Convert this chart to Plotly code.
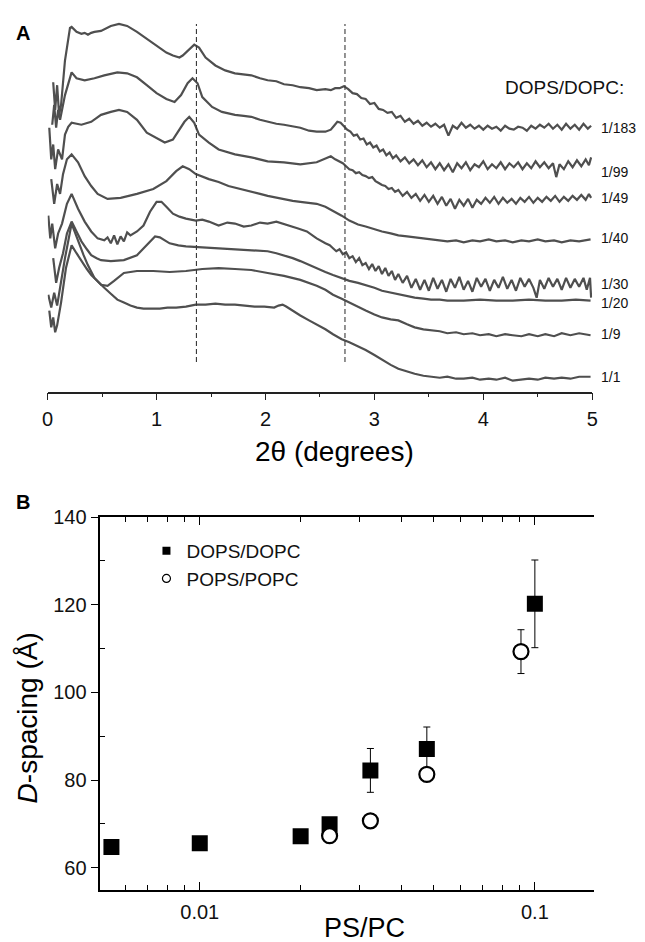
import math
import plotly.graph_objects as go

W, H = 645, 942
BODY = 8                     # default page margin of the html body
FW, FH = W - BODY, H - BODY  # figure size so the whole figure fits the window
FONT = "Liberation Sans, Arial, Helvetica, sans-serif"

# ---------------- Panel A: SAXS curves (2theta in degrees, intensity in offset a.u.) ----------------
curve_1_183 = [
    (0.051, 313), (0.069, 285), (0.087, 310), (0.105, 280), (0.123, 290), (0.159, 335), (0.205, 368),
    (0.22, 369), (0.265, 364), (0.31, 362), (0.34, 363), (0.37, 361), (0.40, 363), (0.43, 364),
    (0.49, 365), (0.55, 368), (0.58, 370), (0.655, 372), (0.73, 370), (0.82, 364), (0.91, 357),
    (1.0, 350), (1.09, 343), (1.15, 340), (1.21, 338), (1.24, 340), (1.27, 343), (1.346, 351),
    (1.39, 348), (1.45, 338), (1.54, 330), (1.63, 325), (1.72, 322), (1.80, 321), (1.87, 320),
    (1.95, 317), (2.02, 315), (2.10, 314), (2.17, 311), (2.25, 310), (2.32, 308), (2.40, 307),
    (2.47, 305), (2.55, 306),
    (2.60, 305), (2.64, 307), (2.68, 307), (2.72, 309), (2.76, 306), (2.80, 302), (2.84, 301),
    (2.88, 297), (2.92, 296), (2.96, 291), (3.00, 292), (3.04, 286), (3.08, 285), (3.12, 282),
    (3.16, 283), (3.20, 277), (3.24, 279), (3.28, 273), (3.32, 276), (3.36, 271), (3.40, 274),
    (3.44, 269), (3.48, 272), (3.52, 268), (3.56, 271), (3.60, 267), (3.64, 270), (3.68, 259),
    (3.72, 269), (3.76, 266), (3.80, 272), (3.84, 267), (3.88, 270), (3.92, 266), (3.96, 269),
    (4.00, 265), (4.04, 269), (4.08, 266), (4.12, 268), (4.16, 264), (4.20, 269), (4.24, 266),
    (4.28, 265), (4.32, 268), (4.36, 267), (4.40, 264), (4.44, 269), (4.48, 266), (4.52, 270),
    (4.56, 267), (4.60, 271), (4.64, 266), (4.68, 270), (4.72, 265), (4.76, 271), (4.80, 266),
    (4.84, 270), (4.88, 265), (4.92, 271), (4.96, 266), (4.99, 269),
]

curve_1_99 = [
    (0.042, 270), (0.06, 290), (0.078, 267), (0.096, 285), (0.114, 275), (0.159, 300), (0.22, 323),
    (0.265, 317), (0.34, 315), (0.43, 317), (0.52, 320), (0.64, 323), (0.73, 322), (0.82, 318),
    (0.91, 310), (1.0, 302), (1.09, 296), (1.165, 293), (1.225, 300), (1.285, 312), (1.33, 317),
    (1.376, 312), (1.42, 298), (1.51, 288), (1.60, 283), (1.72, 280), (1.80, 279), (1.87, 278),
    (1.95, 275), (2.02, 273), (2.10, 271), (2.17, 270), (2.25, 268), (2.32, 267), (2.40, 264),
    (2.47, 263), (2.55, 263),
    (2.60, 265), (2.63, 269), (2.66, 273), (2.69, 272), (2.72, 268), (2.75, 265), (2.78, 263),
    (2.81, 259), (2.84, 260), (2.87, 255), (2.90, 256), (2.93, 250), (2.96, 252), (2.99, 247),
    (3.02, 249), (3.05, 243), (3.08, 245), (3.11, 239), (3.14, 242), (3.17, 236), (3.20, 239),
    (3.24, 233), (3.28, 237), (3.32, 231), (3.36, 235), (3.40, 229), (3.44, 234), (3.48, 227),
    (3.52, 232), (3.56, 225), (3.60, 231), (3.64, 224), (3.68, 230), (3.72, 222), (3.76, 231),
    (3.80, 226), (3.84, 232), (3.88, 224), (3.92, 230), (3.96, 227), (4.00, 233), (4.04, 225),
    (4.08, 230), (4.12, 226), (4.16, 232), (4.20, 225), (4.24, 231), (4.28, 227), (4.32, 232),
    (4.36, 225), (4.40, 231), (4.44, 226), (4.48, 233), (4.52, 227), (4.56, 232), (4.60, 226),
    (4.64, 231), (4.67, 217), (4.70, 230), (4.74, 225), (4.78, 233), (4.82, 227), (4.86, 234),
    (4.90, 228), (4.94, 235), (4.97, 229), (4.99, 237),
]

curve_1_49 = [
    (0.015, 267), (0.033, 235), (0.051, 250), (0.069, 225), (0.096, 245), (0.132, 235), (0.159, 260),
    (0.189, 268), (0.22, 272), (0.31, 270), (0.40, 273), (0.49, 280), (0.58, 283), (0.655, 285),
    (0.73, 283), (0.82, 275), (0.91, 262), (1.0, 257), (1.075, 252), (1.15, 255), (1.21, 265),
    (1.256, 273), (1.30, 278), (1.346, 272), (1.39, 260), (1.48, 252), (1.57, 245), (1.72, 240),
    (1.87, 237), (2.02, 233), (2.17, 232), (2.32, 230), (2.47, 232),
    (2.60, 238), (2.64, 235), (2.68, 233), (2.71, 231), (2.74, 228), (2.77, 225), (2.80, 224),
    (2.83, 221), (2.86, 222), (2.89, 219), (2.92, 218), (2.95, 216), (2.98, 217), (3.01, 213),
    (3.04, 211), (3.07, 209), (3.10, 208), (3.13, 205), (3.16, 206), (3.19, 202), (3.22, 204),
    (3.26, 198), (3.30, 202), (3.34, 196), (3.38, 200), (3.42, 193), (3.46, 199), (3.50, 192),
    (3.54, 198), (3.58, 190), (3.62, 197), (3.66, 188), (3.70, 195), (3.74, 185), (3.78, 194),
    (3.82, 188), (3.86, 195), (3.90, 186), (3.94, 194), (3.98, 190), (4.02, 196), (4.06, 191),
    (4.10, 197), (4.14, 190), (4.18, 196), (4.22, 191), (4.26, 195), (4.30, 190), (4.34, 196),
    (4.38, 192), (4.42, 197), (4.46, 191), (4.50, 196), (4.54, 192), (4.58, 197), (4.62, 193),
    (4.66, 198), (4.70, 192), (4.74, 197), (4.78, 193), (4.82, 198), (4.86, 194), (4.90, 199),
    (4.94, 194), (4.97, 200), (4.99, 196),
]

curve_1_40 = [
    (0.033, 215), (0.06, 190), (0.087, 210), (0.114, 200), (0.141, 220), (0.177, 235), (0.22, 240),
    (0.279, 232), (0.34, 218), (0.40, 208), (0.459, 200), (0.55, 195), (0.67, 196), (0.82, 200),
    (0.97, 205), (1.09, 213), (1.18, 223), (1.24, 228), (1.30, 225), (1.36, 220), (1.48, 215),
    (1.57, 212), (1.66, 208), (1.76, 205), (1.87, 202), (1.95, 200), (2.02, 198), (2.10, 196),
    (2.17, 195), (2.25, 193), (2.32, 192), (2.40, 191), (2.47, 190), (2.55, 187), (2.62, 183),
    (2.70, 178), (2.77, 173), (2.85, 169), (2.92, 167), (3.00, 164), (3.07, 162), (3.15, 160),
    (3.22, 158), (3.30, 157), (3.37, 156), (3.45, 155), (3.52, 154), (3.60, 153), (3.67, 152),
    (3.75, 153), (3.82, 151), (3.90, 153), (3.97, 152), (4.05, 154), (4.12, 152), (4.20, 153),
    (4.27, 151), (4.35, 153), (4.42, 152), (4.50, 154), (4.57, 152), (4.65, 153), (4.72, 151),
    (4.80, 153), (4.88, 152), (4.985, 154),
]

curve_1_30 = [
    (0.006, 178), (0.024, 155), (0.042, 170), (0.069, 145), (0.096, 160), (0.132, 170), (0.177, 190),
    (0.22, 200), (0.279, 185), (0.34, 172), (0.40, 162), (0.459, 155), (0.52, 153), (0.55, 156),
    (0.58, 150), (0.61, 158), (0.64, 149), (0.67, 157), (0.70, 152), (0.73, 161), (0.76, 158),
    (0.82, 162), (0.88, 168), (0.94, 182), (1.0, 192), (1.045, 192), (1.09, 187), (1.15, 180),
    (1.21, 177), (1.27, 175), (1.36, 173), (1.42, 174), (1.48, 172), (1.57, 168), (1.65, 171),
    (1.72, 170), (1.80, 167), (1.87, 168), (1.95, 171), (2.02, 170), (2.10, 172), (2.16, 170),
    (2.23, 168), (2.30, 165), (2.38, 162), (2.47, 155), (2.55, 150), (2.59, 148),
    (2.62, 145), (2.65, 142), (2.68, 144), (2.71, 139), (2.74, 141), (2.77, 135), (2.80, 137),
    (2.83, 131), (2.86, 135), (2.89, 128), (2.92, 130), (2.95, 124), (2.98, 129), (3.01, 122),
    (3.04, 127), (3.07, 119), (3.10, 125), (3.13, 117), (3.16, 122), (3.19, 113), (3.22, 119),
    (3.26, 110), (3.30, 117), (3.34, 105), (3.38, 114), (3.42, 103), (3.46, 113), (3.50, 102),
    (3.54, 115), (3.58, 104), (3.62, 113), (3.66, 101), (3.70, 114), (3.74, 105), (3.78, 116),
    (3.82, 103), (3.86, 112), (3.90, 101), (3.94, 115), (3.98, 106), (4.02, 114), (4.06, 102),
    (4.10, 113), (4.14, 105), (4.18, 116), (4.22, 104), (4.26, 113), (4.30, 102), (4.34, 115),
    (4.38, 106), (4.42, 114), (4.46, 105), (4.49, 95), (4.52, 113), (4.56, 104), (4.60, 115),
    (4.64, 106), (4.68, 114), (4.72, 103), (4.76, 115), (4.80, 105), (4.84, 114), (4.88, 106),
    (4.92, 115), (4.95, 103), (4.98, 115), (4.99, 95),
]

curve_1_20 = [
    (0.051, 135), (0.078, 110), (0.105, 125), (0.141, 140), (0.177, 160), (0.22, 172), (0.265, 162),
    (0.31, 152), (0.36, 144), (0.40, 138), (0.45, 135), (0.49, 133), (0.58, 132), (0.70, 133),
    (0.82, 138), (0.91, 148), (0.986, 157), (1.03, 156), (1.075, 153), (1.12, 150), (1.20, 148),
    (1.27, 147), (1.42, 146), (1.57, 145), (1.72, 144), (1.87, 143), (2.02, 142), (2.10, 140),
    (2.17, 138), (2.25, 135), (2.32, 132), (2.40, 128), (2.47, 125), (2.55, 121), (2.62, 118),
    (2.70, 115), (2.77, 112), (2.85, 110), (2.92, 108), (3.00, 105), (3.07, 102), (3.15, 100),
    (3.22, 98), (3.30, 96), (3.37, 95), (3.45, 94), (3.52, 93), (3.60, 93), (3.67, 92),
    (3.82, 92), (3.97, 93), (4.12, 92), (4.27, 92), (4.42, 93), (4.57, 92), (4.72, 92),
    (4.85, 93), (4.985, 92),
]

curve_1_9 = [
    (0.006, 98), (0.033, 85), (0.06, 100), (0.087, 87), (0.114, 105), (0.159, 135), (0.22, 170),
    (0.28, 152), (0.33, 138), (0.369, 128), (0.43, 115), (0.49, 108), (0.55, 107), (0.61, 112),
    (0.70, 120), (0.82, 122), (0.97, 122), (1.12, 121), (1.27, 122), (1.42, 124), (1.57, 125),
    (1.72, 124), (1.87, 123), (2.02, 120), (2.17, 117), (2.32, 113), (2.40, 110), (2.47, 107),
    (2.55, 103), (2.62, 98), (2.70, 94), (2.77, 90), (2.85, 86), (2.92, 82), (3.00, 78),
    (3.07, 75), (3.15, 73), (3.22, 72), (3.30, 68), (3.37, 65), (3.45, 63), (3.52, 62),
    (3.60, 61), (3.67, 59), (3.75, 60), (3.82, 58), (3.90, 59), (3.97, 57), (4.05, 58),
    (4.12, 56), (4.20, 58), (4.27, 57), (4.35, 56), (4.42, 58), (4.50, 56), (4.57, 58),
    (4.65, 56), (4.72, 59), (4.80, 57), (4.88, 59), (4.985, 57),
]

curve_1_1 = [
    (0.015, 82), (0.033, 65), (0.051, 75), (0.069, 60), (0.087, 67), (0.123, 90), (0.168, 125),
    (0.22, 148), (0.265, 140), (0.31, 132), (0.36, 124), (0.40, 118), (0.46, 111), (0.52, 105),
    (0.58, 99), (0.64, 93), (0.70, 90), (0.76, 87), (0.82, 85), (0.88, 84), (0.95, 84),
    (1.03, 84), (1.10, 85), (1.18, 85), (1.27, 86), (1.36, 88), (1.45, 88), (1.54, 89),
    (1.63, 88), (1.72, 88), (1.81, 87), (1.90, 86), (1.99, 86), (2.08, 85), (2.12, 87),
    (2.157, 88), (2.19, 86), (2.23, 83), (2.28, 80), (2.32, 77), (2.40, 72), (2.47, 68),
    (2.55, 63), (2.62, 58), (2.70, 53), (2.77, 50), (2.85, 46), (2.92, 42), (3.00, 37),
    (3.07, 32), (3.15, 27), (3.22, 23), (3.30, 20), (3.37, 18), (3.45, 16), (3.52, 15),
    (3.60, 14), (3.67, 15), (3.75, 13), (3.82, 13), (3.90, 14), (3.97, 12), (4.05, 13),
    (4.12, 12), (4.20, 14), (4.27, 11), (4.35, 12), (4.42, 13), (4.50, 12), (4.57, 14),
    (4.65, 13), (4.72, 14), (4.80, 13), (4.88, 15), (4.985, 15),
]

sample_names = ["1/183", "1/99", "1/49", "1/40", "1/30", "1/20", "1/9", "1/1"]
sample_curves = [curve_1_183, curve_1_99, curve_1_49, curve_1_40, curve_1_30, curve_1_20, curve_1_9, curve_1_1]
label_levels = [267, 222, 196, 155, 109, 90, 58, 15]   # intensity level of each label
header_level = 308
bragg_lines = [1.366, 2.73]                            # 2theta of the dashed guides
bragg_span = [30, 372]                                 # intensity extent of the guides

# ---------------- Panel B: D-spacing vs PS/PC ----------------
ps_pc_dops = [0.00545, 0.0100, 0.0200, 0.0244, 0.0323, 0.0476, 0.100]
d_dops = [64.7, 65.6, 67.2, 69.9, 82.2, 87.1, 120.2]
err_dops = [0.8, 0.8, 0.8, 1.0, 5.0, 5.0, 10.0]

ps_pc_pops = [0.0244, 0.0323, 0.0476, 0.0909]
d_pops = [67.3, 70.7, 81.3, 109.3]
err_pops = [1.2, 1.4, 1.5, 5.0]

x_ticks_A = [0, 1, 2, 3, 4, 5]
x_minor_A = [0.5, 1.5, 2.5, 3.5, 4.5]
y_ticks_B = [60, 80, 100, 120, 140]
y_minor_B = [70, 90, 110, 130]
x_ticks_B = [0.01, 0.1]
x_ticklabels_B = ["0.01", "0.1"]
x_minor_B = [0.006, 0.007, 0.008, 0.009, 0.02, 0.03, 0.04, 0.05, 0.06, 0.07, 0.08, 0.09]


def px(x):
    """window pixel column -> paper fraction"""
    return (x - BODY) / FW


def py(y):
    """window pixel row -> paper fraction"""
    return 1 - (y - BODY) / FH


LINE_A = "#4f4f4f"

fig = go.Figure()

for name, pts in zip(sample_names, sample_curves):
    xs, ys = zip(*pts)
    fig.add_trace(go.Scatter(x=list(xs), y=list(ys), mode="lines", name=name,
                             line=dict(color=LINE_A, width=2.2), xaxis="x", yaxis="y",
                             showlegend=False, hoverinfo="skip"))

for xb in bragg_lines:
    fig.add_shape(type="line", xref="x", yref="y", x0=xb, x1=xb, y0=bragg_span[0], y1=bragg_span[1],
                  line=dict(color="#3a3a3a", width=1.1, dash="5px,3px"))

# panel B
fig.add_trace(go.Scatter(x=ps_pc_dops, y=d_dops, mode="markers", xaxis="x2", yaxis="y2",
                         marker=dict(symbol="square", size=16, color="black"),
                         error_y=dict(type="data", array=err_dops, color="black", thickness=1, width=3.5),
                         showlegend=False, hoverinfo="skip"))
fig.add_trace(go.Scatter(x=ps_pc_pops, y=d_pops, mode="markers", xaxis="x2", yaxis="y2",
                         marker=dict(symbol="circle", size=15, color="white", line=dict(color="black", width=2.2)),
                         error_y=dict(type="data", array=err_pops, color="black", thickness=1, width=3.5),
                         showlegend=False, hoverinfo="skip"))
# legend entries
fig.add_trace(go.Scatter(x=[None], y=[None], mode="markers", xaxis="x2", yaxis="y2", name="DOPS/DOPC",
                         marker=dict(symbol="square", size=8, color="black")))
fig.add_trace(go.Scatter(x=[None], y=[None], mode="markers", xaxis="x2", yaxis="y2", name="POPS/POPC",
                         marker=dict(symbol="circle", size=8, color="white", line=dict(color="black", width=1.2))))

AX_COLOR = "#222222"
tickfont = dict(family=FONT, size=20, color="#111111")

fig.update_layout(
    width=FW, height=FH,
    margin=dict(l=0, r=0, t=0, b=0, pad=0),
    paper_bgcolor="white", plot_bgcolor="white",
    font=dict(family=FONT, color="#111111"),
    xaxis=dict(domain=[px(42.3), px(597.3)], anchor="y", range=[0, 5],
               tickmode="array", tickvals=x_ticks_A, ticks="outside", ticklen=7, tickwidth=1.3,
               tickcolor=AX_COLOR, minor=dict(tickmode="array", tickvals=x_minor_A, ticks="outside",
                                              ticklen=4, tickwidth=1.3, tickcolor=AX_COLOR),
               showline=True, linecolor=AX_COLOR, linewidth=1.5, showgrid=False, zeroline=False,
               tickfont=tickfont, ticklabelstandoff=2),
    yaxis=dict(domain=[py(385), 1.0], anchor="x", range=[0, 385 - BODY], visible=False),
    xaxis2=dict(domain=[px(96), px(599)], anchor="y2", type="log",
                range=[math.log10(0.00505), math.log10(0.15)],
                tickmode="array", tickvals=x_ticks_B, ticktext=x_ticklabels_B,
                ticks="inside", ticklen=8, tickwidth=1.3, tickcolor="black",
                minor=dict(tickmode="array", tickvals=x_minor_B, ticks="inside", ticklen=5,
                           tickwidth=1.3, tickcolor="black"),
                mirror="allticks", showline=True, linecolor="black", linewidth=1.6,
                showgrid=False, zeroline=False, tickfont=tickfont, ticklabelstandoff=4),
    yaxis2=dict(domain=[py(889), py(512)], anchor="x2", range=[55, 140],
                tickmode="array", tickvals=y_ticks_B, ticks="outside", ticklen=8, tickwidth=1.3,
                tickcolor="black",
                minor=dict(tickmode="array", tickvals=y_minor_B, ticks="inside", ticklen=5,
                           tickwidth=1.3, tickcolor="black"),
                showline=True, linecolor="black", linewidth=1.6, showgrid=False, zeroline=False,
                tickfont=tickfont),
    yaxis3=dict(overlaying="y2", anchor="x2", side="right", range=[55, 140],
                tickmode="array", tickvals=y_ticks_B + y_minor_B, ticks="inside", ticklen=6,
                tickwidth=1.3, tickcolor="black", showticklabels=False,
                showline=True, linecolor="black", linewidth=1.6, showgrid=False, zeroline=False),
    legend=dict(x=px(143), y=py(527), xanchor="left", yanchor="top", bgcolor="rgba(0,0,0,0)",
                font=dict(family=FONT, size=19, color="#111111"), itemwidth=30, tracegroupgap=0),
    showlegend=True,
)

annotations = [
    dict(text="<b>A</b>", x=px(17), y=py(22), xref="paper", yref="paper", showarrow=False,
         font=dict(family=FONT, size=20, color="black"), xanchor="center", yanchor="middle"),
    dict(text="<b>B</b>", x=px(17), y=py(497), xref="paper", yref="paper", showarrow=False,
         font=dict(family=FONT, size=20, color="black"), xanchor="center", yanchor="middle"),
    dict(text="2θ (degrees)", x=px(335), y=py(446), xref="paper", yref="paper", showarrow=False,
         font=dict(family=FONT, size=28, color="black"), xanchor="center", yanchor="middle"),
    dict(text="PS/PC", x=px(365), y=py(928), xref="paper", yref="paper", showarrow=False,
         font=dict(family=FONT, size=27, color="black"), xanchor="center", yanchor="middle"),
    dict(text="<i>D</i>-spacing (Å)", x=px(22), y=py(715), xref="paper", yref="paper", showarrow=False,
         textangle=-90, font=dict(family=FONT, size=28, color="black"), xanchor="center", yanchor="middle"),
    dict(text="DOPS/DOPC:", x=px(632), y=header_level, xref="paper", yref="y", showarrow=False,
         font=dict(family=FONT, size=19, color="#111111"), xanchor="right", yanchor="middle"),
]
for name, lvl in zip(sample_names, label_levels):
    annotations.append(dict(text=name, x=px(604), y=lvl, xref="paper", yref="y", showarrow=False,
                            font=dict(family=FONT, size=14, color="#111111"),
                            xanchor="left", yanchor="middle"))
fig.update_layout(annotations=annotations)

fig.write_html("out.html")
